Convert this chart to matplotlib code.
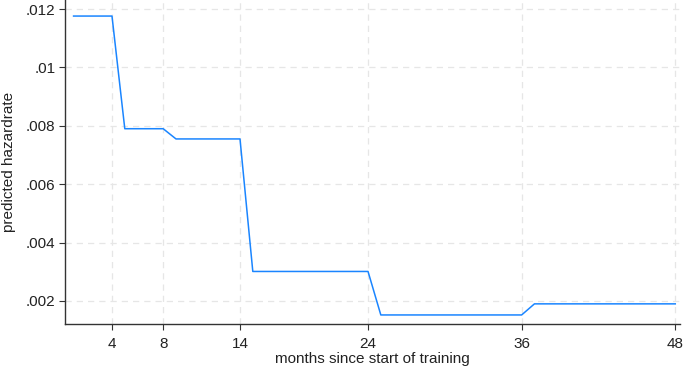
import matplotlib
matplotlib.use("Agg")
import matplotlib.pyplot as plt

months = list(range(1, 49))
levels = [0.01176, 0.0079, 0.00755, 0.00301, 0.00152, 0.0019]
bounds = [4, 8, 14, 24, 36, 48]
hazard = []
for m in months:
    for b, v in zip(bounds, levels):
        if m <= b:
            hazard.append(v)
            break

xticks = [4, 8, 14, 24, 36, 48]
yticks = [0.002, 0.004, 0.006, 0.008, 0.010, 0.012]
ylabels = [".002", ".004", ".006", ".008", ".01", ".012"]

plt.rcParams['font.family'] = ['Liberation Sans', 'DejaVu Sans']
fig = plt.figure(figsize=(6.85, 3.7), dpi=100)
ax = fig.add_axes([65/685, 46/370, 615/685, 324/370])
ax.plot(months, hazard, color='#1a85ff', lw=1.1)
ax.set_xlim(0.33, 48.37)
ax.set_ylim(0.00121, 0.01231)
ax.set_xticks(xticks)
ax.set_xticklabels([str(t) for t in xticks])
ax.set_yticks(yticks)
ax.set_yticklabels(ylabels)
ax.grid(True, color='#e6e6e6', ls=(0, (5, 4)), lw=0.9)
for s in ['top', 'right']:
    ax.spines[s].set_visible(False)
for s in ['left', 'bottom']:
    ax.spines[s].set_color('#333333')
    ax.spines[s].set_linewidth(1.0)
ax.tick_params(axis='both', labelsize=11, length=4.5, color='#333333', colors='#222222')
ax.tick_params(axis='x', pad=4.5)
ax.tick_params(axis='y', pad=2.5)
ax.set_xlabel("months since start of training", fontsize=11, color='#222222', labelpad=1)
ax.set_ylabel("predicted hazardrate", fontsize=11, color='#222222', labelpad=7)
fig.savefig("out.png", dpi=100)
